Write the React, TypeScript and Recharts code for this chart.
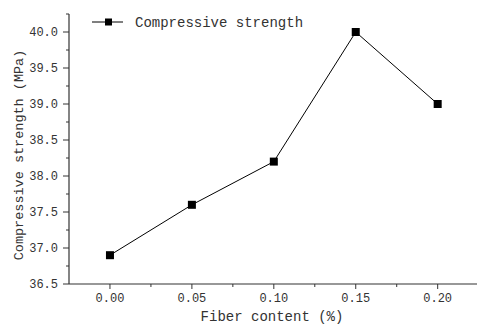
import React from "react";
import { LineChart, Line, XAxis, YAxis, Legend } from "recharts";

const fiberContent = [0.0, 0.05, 0.1, 0.15, 0.2];
const strength = [36.9, 37.6, 38.2, 40.0, 39.0];
const xTicks = [0, 0.025, 0.05, 0.075, 0.1, 0.125, 0.15, 0.175, 0.2];
const yTicks = [36.5, 36.75, 37, 37.25, 37.5, 37.75, 38, 38.25, 38.5, 38.75, 39, 39.25, 39.5, 39.75, 40, 40.25];

const data = fiberContent.map((x, i) => ({ x, y: strength[i] }));

const FONT = "'Liberation Mono', 'DejaVu Sans Mono', monospace";
const AXIS = "#333";

const isMajor = (v: number, step: number) => Math.abs(v / step - Math.round(v / step)) < 1e-6;

function XTick(props: any) {
  const { x, y, payload } = props;
  const major = isMajor(payload.value, 0.05);
  // text y = axis + tickSize(5) + tickMargin(4)
  const axisY = y - 9;
  return (
    <g>
      <line x1={x} x2={x} y1={axisY} y2={axisY + (major ? 5 : 3)} stroke={AXIS} strokeWidth={1} />
      {major && (
        <text x={x} y={y} dy="0.71em" textAnchor="middle" fontSize={12} fill="#333" fontFamily={FONT}>
          {payload.value.toFixed(2)}
        </text>
      )}
    </g>
  );
}

function YTick(props: any) {
  const { x, y, payload } = props;
  const major = isMajor(payload.value, 0.5);
  // text x = axis - tickSize(6) - tickMargin(5)
  const axisX = x + 11;
  return (
    <g>
      <line x1={axisX - (major ? 6 : 3)} x2={axisX} y1={y} y2={y} stroke={AXIS} strokeWidth={1} />
      {major && (
        <text x={x} y={y} dy="0.35em" textAnchor="end" fontSize={12} fill="#333" fontFamily={FONT}>
          {payload.value.toFixed(1)}
        </text>
      )}
    </g>
  );
}

function SquareDot(props: any) {
  const { cx, cy } = props;
  if (cx == null || cy == null) return null;
  return <rect x={cx - 4} y={cy - 4} width={8} height={8} fill="#000" />;
}

function LegendBox() {
  return (
    <svg width={240} height={22}>
      <line x1={4} x2={35} y1={11} y2={11} stroke="#000" strokeWidth={1} />
      <rect x={17} y={7.5} width={7} height={7} fill="#000" />
      <text x={47} y={11} dy="0.35em" fontSize={14} fill="#333" fontFamily={FONT}>
        Compressive strength
      </text>
    </svg>
  );
}

export default function App() {
  return (
    <div style={{ position: "absolute", left: 0, top: 0, width: 477, height: 325, background: "#fff" }}>
      <LineChart width={477} height={325} data={data} margin={{ top: 14, right: 0, bottom: 0, left: 0 }}>
        <XAxis
          dataKey="x"
          type="number"
          domain={[-0.025, 0.224]}
          ticks={xTicks}
          tick={<XTick />}
          tickLine={false}
          tickSize={5}
          tickMargin={4}
          height={41}
          axisLine={{ stroke: AXIS, strokeWidth: 1.2 }}
          interval={0}
          allowDataOverflow
          label={{
            content: () => (
              <text x={272} y={316} dy="0.35em" textAnchor="middle" fontSize={14} fill="#333" fontFamily={FONT}>
                Fiber content (%)
              </text>
            ),
          }}
        />
        <YAxis
          type="number"
          domain={[36.5, 40.25]}
          ticks={yTicks}
          tick={<YTick />}
          tickLine={false}
          tickSize={6}
          tickMargin={5}
          width={69}
          interval={0}
          axisLine={{ stroke: AXIS, strokeWidth: 1.2 }}
          allowDataOverflow
          label={{
            content: () => (
              <text
                x={18}
                y={155}
                dy="0.35em"
                textAnchor="middle"
                fontSize={13.5}
                fill="#333"
                fontFamily={FONT}
                transform="rotate(-90 18 155)"
              >
                Compressive strength (MPa)
              </text>
            ),
          }}
        />
        <Legend
          layout="horizontal"
          verticalAlign="middle"
          align="center"
          content={() => <LegendBox />}
          wrapperStyle={{ top: 11, left: 88, width: 240 }}
        />
        <Line
          dataKey="y"
          name="Compressive strength"
          stroke="#000"
          strokeWidth={1}
          dot={<SquareDot />}
          activeDot={false}
          isAnimationActive={false}
        />
      </LineChart>
    </div>
  );
}
